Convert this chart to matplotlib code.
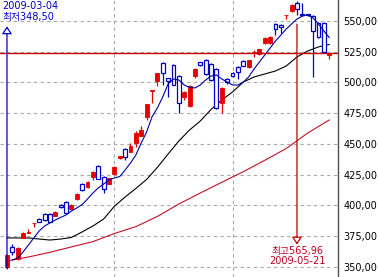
import matplotlib
matplotlib.use("Agg")
import matplotlib.pyplot as plt

plt.rcParams['font.family'] = ['DejaVu Sans', 'Noto Sans CJK KR']

# ---- data ----
opens = [349.8, 366.0, 356.3, 373.4, 377.6, 385.3, 388.8, 392.9, 392.9, 391.3,
         400.2, 402.7, 397.0, 405.1, 417.3, 414.9, 423.0, 432.0, 423.0, 417.7,
         425.5, 438.5, 445.8, 443.4, 450.7, 456.4, 471.9, 493.0, 501.2, 515.8,
         503.6, 514.2, 505.2, 488.1, 480.8, 505.2, 516.6, 518.3, 515.0, 511.0,
         483.3, 502.8, 507.7, 512.6, 517.5, 512.6, 524.0, 523.1, 532.1, 532.1,
         547.6, 546.8, 554.5, 558.1, 564.7, 555.5, 555.5, 554.1, 548.4, 548.4,
         522.3]
closes = [359.5, 362.0, 365.2, 377.4, 377.9, 385.6, 386.4, 388.0, 386.4, 394.5,
          398.6, 393.7, 400.2, 409.2, 412.4, 419.0, 427.1, 421.4, 413.3, 422.2,
          431.2, 440.1, 439.3, 448.3, 458.8, 461.3, 482.4, 493.8, 507.7, 507.7,
          501.2, 497.9, 483.3, 492.2, 497.1, 510.9, 514.2, 506.9, 502.0, 479.5,
          495.5, 500.3, 505.2, 508.5, 513.4, 518.3, 524.8, 527.2, 536.2, 537.0,
          543.5, 545.1, 555.0, 563.0, 559.8, 554.5, 554.5, 541.9, 537.0, 524.8,
          523.7]
highs = [360.5, 368.5, 366.0, 378.0, 380.7, 385.8, 389.5, 393.5, 393.5, 395.0,
         401.0, 403.5, 401.0, 410.0, 418.0, 419.5, 427.5, 432.5, 423.5, 422.5,
         432.0, 440.5, 446.5, 450.7, 460.5, 464.5, 482.5, 494.0, 508.0, 516.5,
         504.0, 515.0, 506.0, 493.0, 498.0, 512.0, 517.0, 519.0, 515.5, 511.5,
         496.0, 503.6, 508.5, 513.0, 518.0, 518.6, 526.4, 527.6, 536.6, 537.4,
         548.0, 547.2, 555.2, 563.5, 565.96, 564.3, 556.0, 554.5, 549.0, 549.0,
         524.0]
lows = [348.5, 359.5, 355.5, 373.0, 377.4, 382.3, 386.0, 387.5, 386.0, 391.0,
        398.0, 393.0, 396.5, 404.5, 412.0, 414.0, 420.5, 421.0, 410.0, 417.0,
        425.0, 438.0, 437.0, 443.0, 447.5, 456.0, 469.5, 483.3, 497.1, 497.9,
        488.1, 497.5, 475.1, 485.7, 480.0, 504.0, 513.5, 506.0, 501.0, 478.5,
        475.1, 499.0, 504.5, 502.8, 513.0, 511.8, 520.7, 522.5, 531.5, 531.5,
        538.6, 540.2, 551.6, 557.5, 554.9, 554.0, 554.0, 504.4, 536.0, 524.0,
        519.1]

ma5_idx = list(range(1, 61))
ma5 = [355.5, 357.1, 362.0, 367.7, 373.4, 379.1, 383.1, 385.6, 388.0, 390.1,
       392.1, 395.3, 397.8, 400.6, 405.1, 410.0, 414.1, 417.3, 420.6, 422.2,
       423.4, 428.7, 434.4, 440.9, 450.7, 459.6, 471.9, 479.2, 488.1, 498.7,
       502.8, 502.0, 497.9, 495.9, 495.5, 497.9, 502.0, 505.2, 506.0, 502.8,
       500.3, 497.9, 497.9, 500.3, 504.4, 510.9, 516.6, 522.3, 528.0, 533.7,
       538.6, 543.5, 547.6, 551.6, 554.1, 554.9, 552.5, 547.6, 541.9, 536.6]

ma20_idx = list(range(0, 61, 2))
ma20 = [373.4, 373.4, 373.4, 372.5, 371.7, 372.5, 373.8, 378.3, 383.1, 388.8,
        399.2, 406.7, 413.7, 421.0, 430.8, 441.7, 452.3, 461.3, 468.6, 478.0,
        485.7, 492.2, 500.3, 504.4, 506.9, 509.3, 513.4, 520.7, 525.6, 528.9,
        530.9]

ma60_idx = list(range(0, 61, 4))
ma60 = [354.6, 357.9, 361.7, 366.1, 370.4, 377.0, 382.6, 390.9, 401.0, 410.0,
        418.7, 427.3, 436.6, 446.2, 458.8, 469.4]

month_start_idx = [20, 42]
yticks = [350, 375, 400, 425, 450, 475, 500, 525, 550]

low_idx, low_date, low_val = 0, "2009-03-04", 348.50
high_idx, high_date, high_val = 54, "2009-05-21", 565.96

# ---- style ----
UP = '#E60000'
DOWN = '#0000C8'
MA5_C = '#0000A0'
MA20_C = '#000000'
MA60_C = '#C0102A'
GRID_C = '#A8A8A8'

fig = plt.figure(figsize=(3.78, 2.77), dpi=100)
ax = fig.add_axes([0, 0, 338 / 378, 1])
ax.set_xlim(-1.3, 61.64)
ax.set_ylim(341.6, 567.1)

for y in yticks:
    ax.axhline(y, color=GRID_C, lw=0.8, ls=(0, (3, 3)), zorder=0)
for x in month_start_idx:
    ax.axvline(x, color=GRID_C, lw=0.8, ls=(0, (3, 3)), zorder=0)

# moving averages
ax.plot(ma60_idx, ma60, color=MA60_C, lw=0.8, zorder=2)
ax.plot(ma20_idx, ma20, color=MA20_C, lw=0.8, zorder=2)

# candles
w = 0.72
for i in range(len(opens)):
    o, h, l, c = opens[i], highs[i], lows[i], closes[i]
    up = c >= o
    col = UP if up else DOWN
    ax.vlines(i, l, h, color=col, lw=0.9, zorder=3)
    bot = min(o, c)
    hgt = max(abs(c - o), 0.6)
    if up:
        ax.bar(i, hgt, bottom=bot, width=w, color=col, edgecolor=col,
               lw=0.6, zorder=4)
    else:
        ax.bar(i, hgt, bottom=bot, width=w, facecolor='white', edgecolor=col,
               lw=0.9, zorder=4)

ax.plot(ma5_idx, ma5, color=MA5_C, lw=0.8, zorder=5)

# last price line
ax.axhline(closes[-1], color='#C80000', lw=1.0, zorder=6)

# low annotation
ax.annotate('', xy=(low_idx, 0.905), xycoords=('data', 'axes fraction'),
            xytext=(low_idx, low_val), textcoords='data',
            arrowprops=dict(arrowstyle='-|>,head_length=0.45,head_width=0.3',
                            fc='white', ec=DOWN, lw=0.9, shrinkA=0, shrinkB=0,
                            mutation_scale=10), zorder=7)
fig.text(2 / 378, 1 - 1 / 277,
         low_date + "\n최저" + f"{low_val:.2f}".replace('.', ','),
         fontsize=7, color=DOWN, va='top', ha='left', linespacing=1.1)

# high annotation
ax.annotate('', xy=(high_idx, 0.117), xycoords=('data', 'axes fraction'),
            xytext=(high_idx, 0.913), textcoords=('data', 'axes fraction'),
            arrowprops=dict(arrowstyle='-|>,head_length=0.45,head_width=0.3',
                            fc='white', ec='#C00000', lw=0.9, shrinkA=0,
                            shrinkB=0, mutation_scale=10), zorder=7)
ax.text(high_idx + 0.1, 0.113,
        "최고" + f"{high_val:.2f}".replace('.', ',') + "\n" + high_date,
        transform=ax.get_xaxis_transform(), fontsize=7, color='#C00020',
        va='top', ha='center', linespacing=1.05, zorder=8)

# axes styling
ax.set_yticks(yticks)
ax.set_yticklabels([f"{v:.2f}".replace('.', ',') for v in yticks], fontsize=7)
ax.yaxis.tick_right()
ax.tick_params(axis='y', length=0, pad=4)
ax.set_xticks([])
for s in ['top', 'left', 'bottom']:
    ax.spines[s].set_visible(False)
ax.spines['right'].set_color('#505050')
ax.spines['right'].set_linewidth(1.0)

fig.savefig('out.png', dpi=100)
